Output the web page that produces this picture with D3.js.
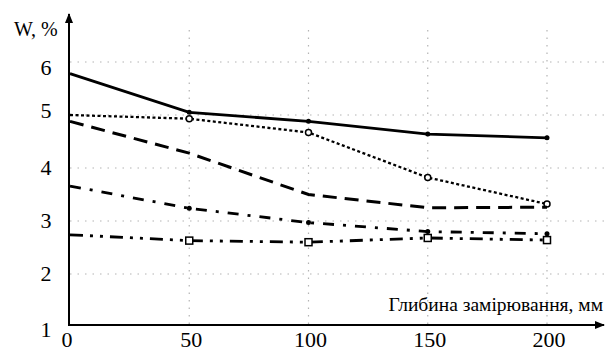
<!DOCTYPE html>
<html>
<head>
<meta charset="utf-8">
<script src="https://cdn.jsdelivr.net/npm/d3@7"></script>
<style>
  body { margin: 0; background: #fff; }
  svg { display: block; }
  text { font-family: "Liberation Serif", "DejaVu Serif", serif; }
</style>
</head>
<body>
<script>
var depths = [0, 50, 100, 150, 200];
var xTicks = [0, 50, 100, 150, 200];
var yTicks = [1, 2, 3, 4, 5, 6];

// moisture W, % for each curve
var wSolid = [5.78, 5.05, 4.88, 4.64, 4.57];
var wDotted = [5.0, 4.93, 4.67, 3.82, 3.32];
var wDashed = [4.88, 4.28, 3.5, 3.25, 3.26];
var wDashDot = [3.66, 3.24, 2.97, 2.8, 2.76];
var wDashDotDot = [2.74, 2.63, 2.6, 2.68, 2.64];

var width = 606,
    height = 351;

var x = d3.scaleLinear().domain([0, 200]).range([70, 547]);
var y = d3.scaleLinear().domain([1, 6]).range([327, 62]);

var serif = "'Liberation Serif', 'Times New Roman', serif";

var svg = d3.select("body").append("svg")
    .attr("width", width)
    .attr("height", height);

// grid
svg.append("g").selectAll("line")
    .data(yTicks.filter(function(d) { return d > 1; }))
    .enter().append("line")
    .attr("x1", 70).attr("x2", 604)
    .attr("y1", function(d) { return y(d); })
    .attr("y2", function(d) { return y(d); })
    .attr("stroke", "#b4b4b4")
    .attr("stroke-width", 1.2)
    .attr("stroke-dasharray", "1.5,6");

svg.append("g").selectAll("line")
    .data(xTicks.filter(function(d) { return d > 0; }))
    .enter().append("line")
    .attr("x1", function(d) { return x(d); })
    .attr("x2", function(d) { return x(d); })
    .attr("y1", 30).attr("y2", 325)
    .attr("stroke", "#b4b4b4")
    .attr("stroke-width", 1.2)
    .attr("stroke-dasharray", "1.5,6");

// axes with arrows
svg.append("defs").append("marker")
    .attr("id", "arrow")
    .attr("viewBox", "0 0 10 10")
    .attr("refX", 9).attr("refY", 5)
    .attr("markerWidth", 5).attr("markerHeight", 5)
    .attr("orient", "auto")
  .append("path")
    .attr("d", "M0,1L10,5L0,9z")
    .attr("fill", "#000");

svg.append("line")
    .attr("x1", 69).attr("y1", 326)
    .attr("x2", 69).attr("y2", 14)
    .attr("stroke", "#000").attr("stroke-width", 2)
    .attr("marker-end", "url(#arrow)");

svg.append("line")
    .attr("x1", 68).attr("y1", 325)
    .attr("x2", 604).attr("y2", 325)
    .attr("stroke", "#000").attr("stroke-width", 2)
    .attr("marker-end", "url(#arrow)");

// tick labels
svg.append("g").selectAll("text")
    .data(yTicks)
    .enter().append("text")
    .attr("x", 46)
    .attr("y", function(d) { return y(d) + (d === 6 ? 13 : d === 5 ? 3 : d === 1 ? 10 : 7); })
    .attr("text-anchor", "middle")
    .attr("font-family", serif)
    .attr("font-size", 22)
    .text(function(d) { return d; });

svg.append("g").selectAll("text")
    .data(xTicks)
    .enter().append("text")
    .attr("x", function(d) { return d === 0 ? 67 : x(d) + 2; })
    .attr("y", 347)
    .attr("text-anchor", "middle")
    .attr("font-family", serif)
    .attr("font-size", 22)
    .text(function(d) { return d; });

svg.append("text")
    .attr("x", 14).attr("y", 36)
    .attr("font-family", serif)
    .attr("font-size", 20)
    .text("W, %");

svg.append("text")
    .attr("x", 603).attr("y", 311)
    .attr("text-anchor", "end")
    .attr("font-family", serif)
    .attr("font-size", 19.5)
    .text("Глибина замірювання, мм");

// curves
var series = [
    {values: wSolid, dash: null, w: 2.8, marker: "dot"},
    {values: wDotted, dash: "3,2.5", w: 2.3, marker: "circle"},
    {values: wDashed, dash: "14,8", w: 3, marker: "none"},
    {values: wDashDot, dash: "11,9,3,9", w: 2.8, marker: "dot"},
    {values: wDashDotDot, dash: "13,7,3,7,3,7", w: 2.8, marker: "square"}
];

var line = d3.line()
    .x(function(d) { return x(d[0]); })
    .y(function(d) { return y(d[1]); });

series.forEach(function(s) {
    var pts = depths.map(function(d, i) { return [d, s.values[i]]; });
    svg.append("path")
        .datum(pts)
        .attr("d", line)
        .attr("fill", "none")
        .attr("stroke", "#000")
        .attr("stroke-width", s.w)
        .attr("stroke-dasharray", s.dash);

    var mk = pts.slice(1);
    if (s.marker === "dot") {
        svg.append("g").selectAll("circle").data(mk).enter().append("circle")
            .attr("cx", function(d) { return x(d[0]); })
            .attr("cy", function(d) { return y(d[1]); })
            .attr("r", 2.5).attr("fill", "#000");
    } else if (s.marker === "circle") {
        svg.append("g").selectAll("circle").data(mk).enter().append("circle")
            .attr("cx", function(d) { return x(d[0]); })
            .attr("cy", function(d) { return y(d[1]); })
            .attr("r", 3).attr("fill", "#fff")
            .attr("stroke", "#000").attr("stroke-width", 1.5);
    } else if (s.marker === "square") {
        svg.append("g").selectAll("rect").data(mk).enter().append("rect")
            .attr("x", function(d) { return x(d[0]) - 3.5; })
            .attr("y", function(d) { return y(d[1]) - 3.5; })
            .attr("width", 7).attr("height", 7)
            .attr("fill", "#fff")
            .attr("stroke", "#000").attr("stroke-width", 1.5);
    }
});
</script>
</body>
</html>
